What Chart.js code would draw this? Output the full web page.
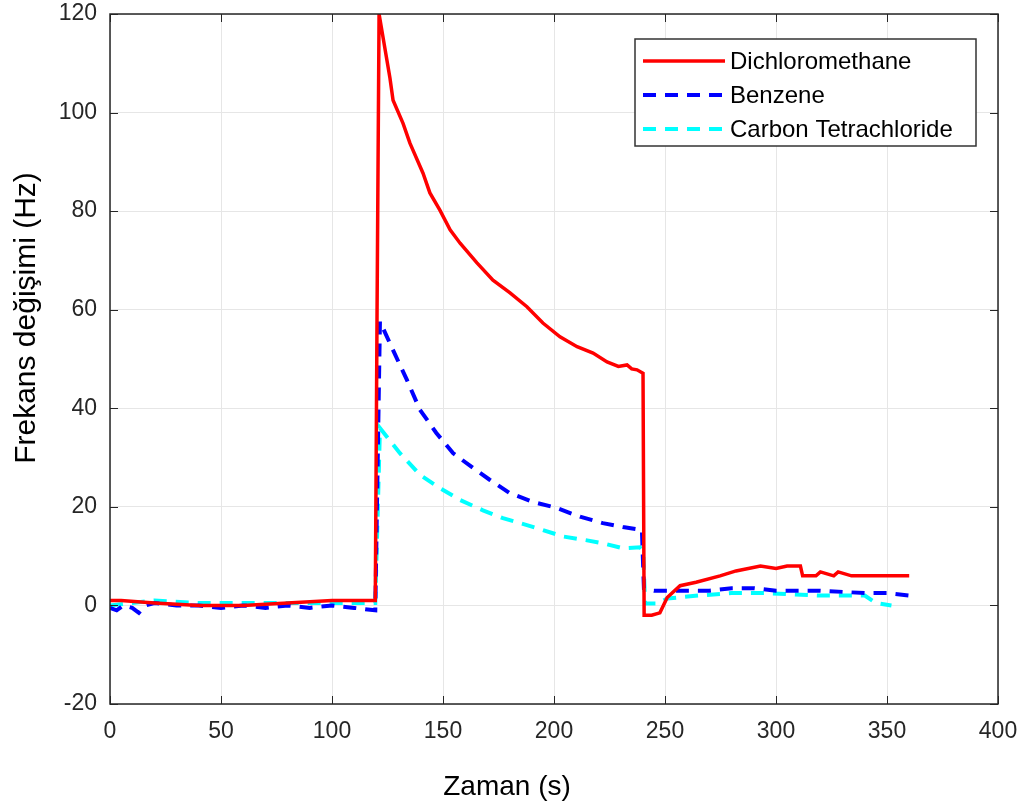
<!DOCTYPE html>
<html>
<head>
<meta charset="utf-8">
<script src="https://cdn.jsdelivr.net/npm/chart.js@4/dist/chart.umd.min.js"></script>
<style>
  html, body { margin: 0; padding: 0; background: #fff; }
  canvas { display: block; }
</style>
</head>
<body>
<canvas id="chart" width="1024" height="809"></canvas>
<script>
// Series data (time in s, frequency change in Hz)
const dcmTime = [0, 5, 20, 40, 60, 80, 100, 119.5, 120.3, 121.2, 126.1, 127.5, 132, 135.1, 141, 144.1, 148.6, 153.2, 157.7, 165.3, 172.5, 180.2, 187.8, 195, 202.7, 210.4, 217.6, 223.9, 229, 232.9, 235, 237.4, 240.1, 240.6, 244, 247.7, 251, 256.8, 264, 274.8, 282, 293, 300, 305, 311, 312, 318, 320, 326, 328, 334, 340, 350, 360];
const dcmValues = [1, 1, 0.5, 0, 0, 0.5, 1, 1, 60, 120, 107, 102.5, 97.8, 93.8, 87.7, 83.7, 80.2, 76.2, 73.5, 69.5, 66, 63.4, 60.6, 57.3, 54.5, 52.5, 51.2, 49.4, 48.5, 48.8, 48, 47.8, 47.1, -2, -2, -1.5, 1.6, 4, 4.7, 6, 7, 8, 7.5, 8, 8, 6, 6, 6.8, 6, 6.8, 6, 6, 6, 6];

const benzTime = [0, 3, 6, 10, 13, 16, 20, 30, 40, 50, 60, 70, 80, 90, 100, 110, 119.5, 121.6, 127.5, 133.8, 139.6, 147, 154.5, 163.5, 171, 180, 190.5, 201, 211.7, 222, 231, 239.6, 240.5, 245, 260, 270, 280, 290, 300, 320, 340, 350, 360];
const benzValues = [-0.5, -1, 0, -0.5, -1.5, 0, 0.5, 0, 0, -0.5, 0, -0.5, 0, -0.5, 0, -0.5, -1, 57.6, 51.8, 45.7, 39.7, 35, 30.9, 27.9, 25.5, 22.8, 21, 19.8, 18, 16.7, 15.9, 15.3, 3.5, 3, 3, 3, 3.5, 3.5, 3, 3, 2.5, 2.5, 2];

const cclTime = [0, 10, 20, 40, 60, 80, 100, 119.5, 121.6, 130.6, 139.6, 148.6, 157.7, 168, 177, 187.8, 195, 204, 214.9, 222, 231, 238.7, 240.2, 241, 247, 251, 265, 280, 295, 320, 340, 345, 352];
const cclValues = [0, 0.5, 1, 0.5, 0.5, 0.5, 0.5, 0.5, 36, 30.9, 26.5, 23.8, 21.4, 19.3, 17.7, 16.3, 15.3, 14, 13.2, 12.6, 11.6, 11.8, 11, 0.4, 0.4, 1.4, 2, 2.5, 2.5, 2, 2, 0.5, 0];

const seriesNames = ['Dichloromethane', 'Benzene', 'Carbon Tetrachloride'];

const xTitle = 'Zaman (s)';
const yTitle = 'Frekans değişimi (Hz)';

const FONT = '"Liberation Sans", Arial, sans-serif';
const TEXT = '#262626';

function toPoints(times, values) {
  return times.map((t, i) => ({ x: t, y: values[i] }));
}

// box, inward tick marks, axis titles and legend drawn on top of the chart
const matlabLook = {
  id: 'matlabLook',
  afterDraw(chart) {
    const { ctx, chartArea: a, scales } = chart;
    ctx.save();

    ctx.strokeStyle = TEXT;
    ctx.lineWidth = 1;
    const tl = 8;
    ctx.beginPath();
    scales.x.ticks.forEach(t => {
      const px = Math.round(scales.x.getPixelForValue(t.value)) + 0.5;
      ctx.moveTo(px, a.bottom); ctx.lineTo(px, a.bottom - tl);
      ctx.moveTo(px, a.top); ctx.lineTo(px, a.top + tl);
    });
    scales.y.ticks.forEach(t => {
      const py = Math.round(scales.y.getPixelForValue(t.value)) + 0.5;
      ctx.moveTo(a.left, py); ctx.lineTo(a.left + tl, py);
      ctx.moveTo(a.right, py); ctx.lineTo(a.right - tl, py);
    });
    ctx.stroke();

    ctx.lineWidth = 1.5;
    ctx.strokeRect(a.left, a.top, a.right - a.left, a.bottom - a.top);

    // axis titles
    ctx.fillStyle = '#000';
    ctx.textAlign = 'center';
    ctx.textBaseline = 'middle';
    ctx.font = '28px ' + FONT;
    ctx.fillText(xTitle, 507, 787);
    ctx.save();
    ctx.translate(27, 318);
    ctx.rotate(-Math.PI / 2);
    ctx.font = '30px ' + FONT;
    ctx.fillText(yTitle, 0, 0);
    ctx.restore();

    // legend
    const lx = 635, ly = 39, lw = 341, lh = 107;
    ctx.fillStyle = '#fff';
    ctx.fillRect(lx, ly, lw, lh);
    ctx.strokeStyle = '#333';
    ctx.lineWidth = 1.5;
    ctx.strokeRect(lx, ly, lw, lh);
    const rows = [61, 95, 129];
    chart.data.datasets.forEach((ds, i) => {
      ctx.strokeStyle = ds.borderColor;
      ctx.lineWidth = ds.borderWidth;
      ctx.setLineDash(ds.borderDash || []);
      ctx.beginPath();
      ctx.moveTo(643, rows[i]);
      ctx.lineTo(725, rows[i]);
      ctx.stroke();
      ctx.setLineDash([]);
      ctx.fillStyle = '#000';
      ctx.font = '24px ' + FONT;
      ctx.textAlign = 'left';
      ctx.fillText(ds.label, 730, rows[i] + 1);
    });

    ctx.restore();
  }
};

new Chart(document.getElementById('chart'), {
  type: 'line',
  data: {
    datasets: [
      {
        label: seriesNames[0],
        data: toPoints(dcmTime, dcmValues),
        borderColor: '#ff0000',
        borderWidth: 3.5,
        pointRadius: 0,
        tension: 0
      },
      {
        label: seriesNames[1],
        data: toPoints(benzTime, benzValues),
        borderColor: '#0000ff',
        borderWidth: 4,
        borderDash: [13, 9],
        pointRadius: 0,
        tension: 0
      },
      {
        label: seriesNames[2],
        data: toPoints(cclTime, cclValues),
        borderColor: '#00ffff',
        borderWidth: 4,
        borderDash: [13, 9],
        pointRadius: 0,
        tension: 0
      }
    ]
  },
  options: {
    responsive: false,
    animation: false,
    layout: { padding: { top: 14, right: 26, left: 0, bottom: 0 } },
    plugins: {
      legend: { display: false },
      tooltip: { enabled: false }
    },
    scales: {
      x: {
        type: 'linear',
        min: 0,
        max: 400,
        afterFit: (scale) => {
          scale.height = 105;
          scale.paddingLeft = 0;
          scale.paddingRight = 0;
        },
        ticks: {
          stepSize: 50,
          color: TEXT,
          padding: 14,
          maxRotation: 0,
          font: { family: FONT, size: 23 }
        },
        grid: { color: '#e6e6e6', lineWidth: 1, drawTicks: false },
        border: { display: false }
      },
      y: {
        min: -20,
        max: 120,
        afterFit: (scale) => {
          scale.width = 110;
          scale.paddingTop = 0;
          scale.paddingBottom = 0;
        },
        ticks: {
          stepSize: 20,
          color: TEXT,
          padding: 13,
          font: { family: FONT, size: 23 }
        },
        grid: { color: '#e6e6e6', lineWidth: 1, drawTicks: false },
        border: { display: false }
      }
    }
  },
  plugins: [matlabLook]
});
</script>
</body>
</html>
